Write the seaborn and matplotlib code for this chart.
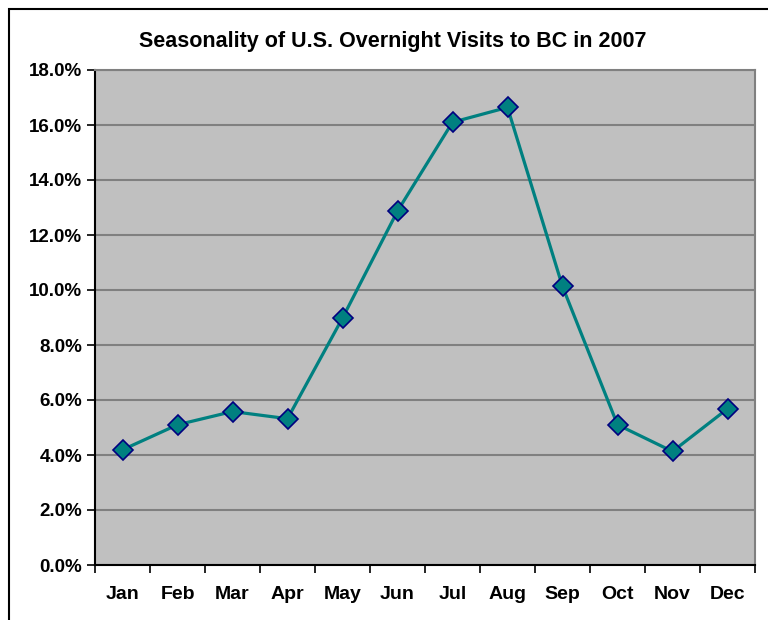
import matplotlib
matplotlib.use("Agg")
import matplotlib.pyplot as plt
import seaborn as sns
import pandas as pd
import numpy as np
from matplotlib.ticker import FuncFormatter, FixedLocator
from matplotlib.patches import Rectangle

months = ["Jan", "Feb", "Mar", "Apr", "May", "Jun", "Jul", "Aug", "Sep", "Oct", "Nov", "Dec"]
share = [4.19, 5.10, 5.58, 5.32, 8.98, 12.87, 16.10, 16.64, 10.13, 5.10, 4.13, 5.68]
title = "Seasonality of U.S. Overnight Visits to BC in 2007"

sns.set_theme(style="white")
plt.rcParams['font.family'] = ['Liberation Sans', 'DejaVu Sans']
plt.rcParams['text.color'] = 'black'
plt.rcParams['xtick.color'] = 'black'
plt.rcParams['ytick.color'] = 'black'

df = pd.DataFrame({"pos": np.arange(len(months)), "share": share})

fig = plt.figure(figsize=(7.68, 6.2), dpi=100)
fig.patch.set_facecolor("white")
ax = fig.add_axes([95/768, (620-565)/620, 660/768, 495/620])
ax.set_facecolor("#C0C0C0")

ax.set_ylim(0, 18)
ax.set_xlim(-0.5, 11.5)
ax.set_yticks(np.arange(0, 18.1, 2))
ax.yaxis.grid(True, color="#808080", linewidth=1.5)
ax.set_axisbelow(True)

sns.lineplot(data=df, x="pos", y="share", ax=ax, color="#008080", linewidth=2.3,
             marker="D", markersize=10, markerfacecolor="#008080",
             markeredgecolor="#000080", markeredgewidth=1.2, zorder=3)

ax.set_xticks(np.arange(len(months)))
ax.set_xticklabels(months, fontsize=14, fontweight="bold", color="black")
ax.xaxis.set_minor_locator(FixedLocator(np.arange(-0.5, 12, 1)))
ax.tick_params(axis="x", which="major", length=0, pad=15)
ax.tick_params(axis="x", which="minor", length=6, width=1.2, color="black", direction="out", bottom=True)
ax.yaxis.set_major_formatter(FuncFormatter(lambda v, p: f"{v:.1f}%"))
ax.tick_params(axis="y", which="major", length=6, width=1.2, color="black", direction="out", left=True, labelsize=13.5, pad=3, labelcolor="black")
for lab in ax.get_yticklabels():
    lab.set_fontweight("bold")
ax.set_xlabel("")
ax.set_ylabel("")

for s in ["left", "bottom"]:
    ax.spines[s].set_color("black")
    ax.spines[s].set_linewidth(1.5)
for s in ["right", "top"]:
    ax.spines[s].set_color("#808080")
    ax.spines[s].set_linewidth(1.5)

fig.text(393/768, 1 - 42/620, title, ha="center", va="center", fontsize=15.5, fontweight="bold", color="black")

fig.add_artist(Rectangle((9/768, -0.1), 1.2, 1 - 9/620 + 0.1, transform=fig.transFigure,
                         fill=False, edgecolor="black", linewidth=1.5))

fig.savefig("out.png", dpi=100)
